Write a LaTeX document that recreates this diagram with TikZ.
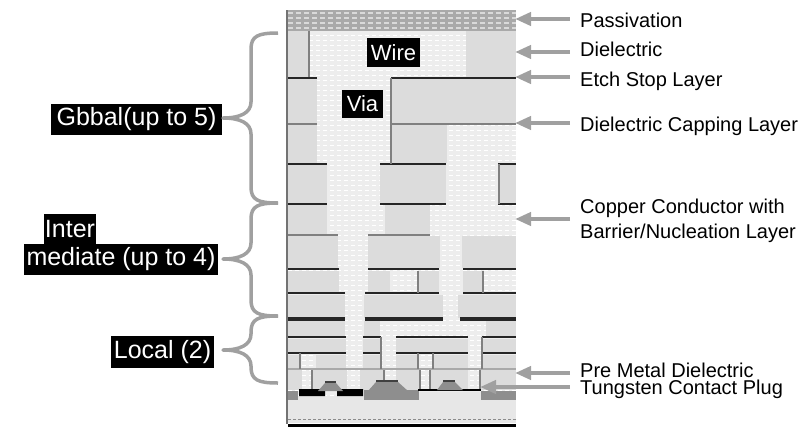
\documentclass[tikz,border=0pt]{standalone}
\usepackage{fontspec}
\setmainfont{Liberation Sans}
\usetikzlibrary{arrows.meta}
\definecolor{dielgray}{HTML}{DCDCDC}
\definecolor{coppergray}{HTML}{EDEDED}
\definecolor{passgray}{HTML}{A9A9A9}
\definecolor{leadgray}{HTML}{A0A0A0}
\definecolor{siligray}{HTML}{8E8E8E}
\tikzset{
    diel/.style={fill=dielgray},
    etch/.style={draw=black!85,line width=2.2pt},
    edge/.style={draw=black!50,line width=1.2pt},
    leader/.style={draw=leadgray,line width=4pt,-{Triangle[length=16pt,width=13pt]}},
    brace/.style={draw=leadgray,line width=3.5pt,line join=round},
    tag/.style={fill=black,text=white,inner sep=0pt,font=\fontsize{25}{30}\selectfont},
    layername/.style={anchor=base west,align=left,inner xsep=10pt,inner ysep=0pt,font=\fontsize{20}{25.5}\selectfont}
}

\begin{document}
\begin{tikzpicture}[x=1pt,y=-1pt]
    \useasboundingbox (0,0) rectangle (800,440);

    % copper behind everything
    \fill [coppergray] (287,31) rectangle (516,400);
    \foreach \y in {35,40,...,395}
        \draw [white,line width=1pt,dash pattern=on 4pt off 3pt] (288,\y) -- (516,\y);

    % passivation
    \fill [passgray] (287,10) rectangle (516,31);
    \foreach \y in {13,18,23,28}
        \draw [white!85!black,line width=1.2pt,dash pattern=on 5pt off 3pt] (288,\y) -- (516,\y);

    % dielectric blocks
    \foreach \xa/\ya/\xb/\yb in {
        287/31/309/77, 466/31/516/77,
        287/79/317/123, 392/79/516/123,
        287/125/317/163, 392/125/447/163,
        287/165/327/203, 380/165/446/203, 499/165/516/203,
        287/205/327/235, 385/205/430/235,
        287/236/338/268, 368/236/440/268, 462/236/516/268,
        287/271/339/292, 368/271/390/292, 419/271/439/292, 463/271/483/292,
        287/295/345/318, 364/295/443/318, 458/295/516/318,
        287/321/345/336, 364/321/380/336, 486/321/516/336,
        287/339/346/352, 363/339/381/352, 396/339/468/352, 482/339/516/352,
        287/355/299/368, 316/355/346/368, 363/355/381/368, 396/355/418/368, 433/355/468/368, 482/355/516/368,
        287/370/302/390, 312/370/347/390, 360/370/384/390, 396/370/420/390, 431/370/468/390, 481/370/516/390}
        \fill [diel] (\xa,\ya) rectangle (\xb,\yb);
    \draw [passgray,line width=1.5pt] (287,369) -- (516,369);

    % stop layers
    \foreach \y/\xa/\xb in {
        78/287/317, 78/391/516,
        164/287/327, 164/380/446, 164/498/516,
        204/287/327, 204/380/446, 204/498/516,
        269/287/339, 269/368/439, 269/463/516,
        293/287/345, 293/365/439, 293/463/516,
        337/287/346, 337/363/381, 337/396/468, 337/482/516,
        353/287/346, 353/363/381, 353/396/468, 353/482/516}
        \draw [etch] (\xa,\y) -- (\xb,\y);
    \draw [etch,line width=3.5pt] (287,319) -- (345,319) (365,319) -- (443,319) (460,319) -- (516,319);
    \draw [edge] (287,124) -- (317,124) (391,124) -- (516,124)
        (287,235) -- (338,235) (368,235) -- (430,235);

    % side walls
    \foreach \x/\ya/\yb in {
        309/31/77, 391/78/164, 499/164/204,
        418/271/293, 483/271/293,
        381/337/369, 300/353/369, 418/353/369,
        433/353/369, 482/337/369, 312/370/390, 384/370/390,
        420/370/390, 430/370/390, 480/370/390}
        \draw [edge] (\x,\ya) -- (\x,\yb);

    % substrate and contacts
    \fill [dielgray!70!white] (287,400) rectangle (516,423);
    \fill [dielgray!70!white] (298,396) rectangle (364,400) (418,392) rectangle (481,400);
    \draw [black!45,line width=1pt,dash pattern=on 3pt off 2pt] (288,419) -- (516,419);
    \draw [black,line width=3pt] (288,425) -- (516,425);
    \fill [siligray] (287,391) rectangle (298,400);
    \fill [siligray] (364,390) rectangle (419,400);
    \fill [siligray] (481,391) rectangle (516,400);
    \fill [black] (299,389) rectangle (325,396) (337,389) rectangle (363,396);
    \draw [black,line width=1.5pt] (418,390) -- (481,390);
    \fill [siligray] (318,391) -- (325,383) -- (336,383) -- (343,391) -- cycle;
    \fill [siligray] (368,391) -- (376,382) -- (398,382) -- (408,391) -- cycle;
    \fill [siligray] (437,390) -- (443,382) -- (455,382) -- (463,390) -- cycle;
    \draw [black!75,line width=1.5pt] (325,382) -- (336,382) (376,381) -- (398,381) (443,381) -- (455,381);
    \draw [black!55,line width=1.5pt] (287,10) -- (287,424);

    % labels inside the stack
    \node [tag,minimum width=53pt,minimum height=29pt,font=\fontsize{22}{26}\selectfont] (wire) at (393.5,52.5) {Wire};
    \node [tag,minimum width=41pt,minimum height=28pt,font=\fontsize{22}{26}\selectfont] (via) at (362.5,104) {Via};

    % level names
    \node [tag,minimum width=171pt,minimum height=31pt] (global) at (136.5,119.5) {Gbbal(up to 5)};
    \node [tag,minimum width=52pt,minimum height=30pt] (inter) at (70,229) {Inter};
    \node [tag,minimum width=194pt,minimum height=31pt] (mediate) at (121,259.5) {mediate (up to 4)};
    \node [tag,minimum width=103pt,minimum height=32pt] (local) at (162.5,352) {Local (2)};

    \foreach \name/\ya/\ym/\yb in {global/33/118/203, inter/203/259/316, local/316/350/383} {
        \coordinate (\name tip) at (223,\ym);
        \draw [brace] (278,\ya) .. controls (258,\ya) and (251,\ya+3) .. (251,\ya+16)
            -- (251,\ym-16) .. controls (251,\ym-5) and (240,\ym) .. (\name tip)
            .. controls (240,\ym) and (251,\ym+5) .. (251,\ym+16)
            -- (251,\yb-16) .. controls (251,\yb-3) and (258,\yb) .. (278,\yb);
    }

    % layer names on the right
    \node [layername] (passivation) at (570,27) {Passivation};
    \node [layername] (dielectric) at (570,56) {Dielectric};
    \node [layername] (etchstop) at (570,86) {Etch Stop Layer};
    \node [layername] (capping) at (570,131) {Dielectric Capping Layer};
    \node [layername] (conductor) at (570,238.5) {Copper Conductor with\\Barrier/Nucleation Layer};
    \node [layername] (premetal) at (570,377) {Pre Metal Dielectric};
    \node [layername] (plug) at (570,394) {Tungsten Contact Plug};

    \coordinate (passivationend) at (515,19);
    \coordinate (dielectricend) at (515,52);
    \coordinate (etchstopend) at (515,77);
    \coordinate (cappingend) at (515,123);
    \coordinate (conductorend) at (515,219);
    \coordinate (premetalend) at (515,373);
    \coordinate (plugend) at (480,387);

    \draw [leader] (passivation.west |- passivationend) -- (passivationend);
    \draw [leader] (dielectric.west |- dielectricend) -- (dielectricend);
    \draw [leader] (etchstop.west |- etchstopend) -- (etchstopend);
    \draw [leader] (capping.west |- cappingend) -- (cappingend);
    \draw [leader] (conductor.west |- conductorend) -- (conductorend);
    \draw [leader] (premetal.west |- premetalend) -- (premetalend);
    \draw [leader] (plug.west |- plugend) -- (plugend);
\end{tikzpicture}
\end{document}
